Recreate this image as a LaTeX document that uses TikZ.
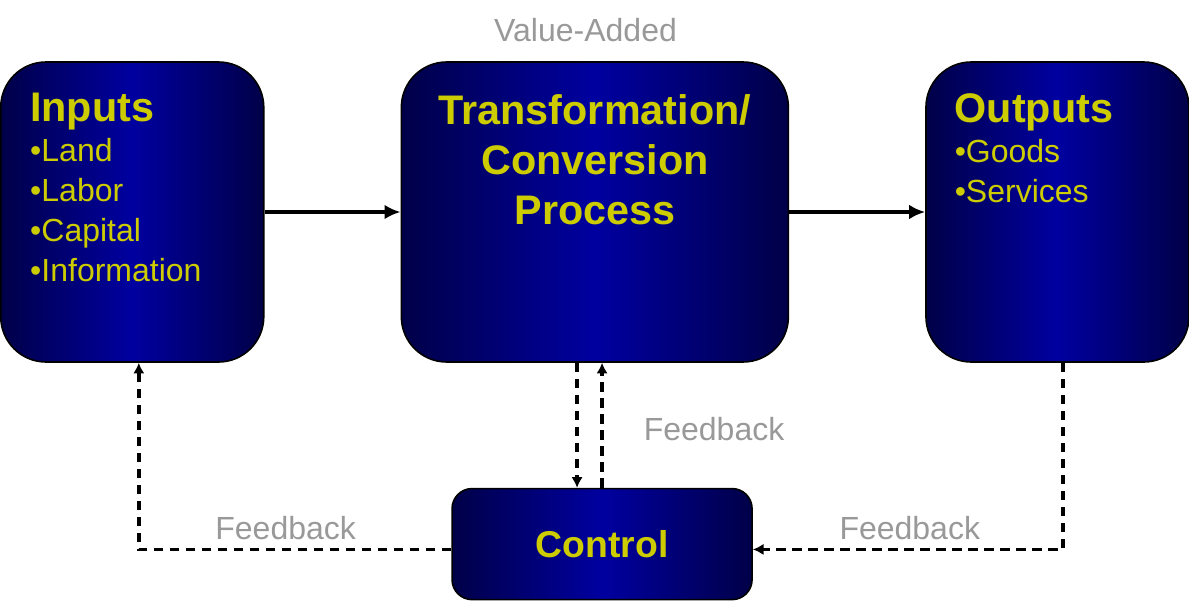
\documentclass[tikz,border=0pt]{standalone}
\usepackage{fontspec}
\setmainfont{Liberation Sans}
\usetikzlibrary{positioning, arrows.meta}

\definecolor{navyedge}{RGB}{0,0,72}
\definecolor{navymid}{RGB}{0,0,160}
\definecolor{labelgold}{RGB}{204,204,0}
\definecolor{notegray}{RGB}{153,153,153}
\newcommand{\titlefont}{\bfseries\fontsize{31}{30}\selectfont}

\begin{document}
\begin{tikzpicture}[
  box/.style     = {draw=black, line width=1.2pt, rounded corners=34pt,
                    left color=navyedge, right color=navyedge, middle color=navymid,
                    minimum width=197.25pt, minimum height=225pt, inner sep=0pt},
  ctrlbox/.style = {box, rounded corners=15pt, minimum width=225pt, minimum height=83.25pt,
                    text=labelgold, font=\bfseries\fontsize{28}{30}\selectfont},
  boxtext/.style = {text=labelgold, align=left, inner sep=0pt, font=\fontsize{24}{30}\selectfont},
  note/.style    = {text=notegray, inner sep=0pt, font=\fontsize{24}{30}\selectfont},
  flow/.style    = {line width=3.2pt, -{Latex[length=12pt, width=11pt]}},
  fbarrow/.style = {line width=2.6pt, dash pattern=on 7pt off 5pt, -{Latex[length=8pt, width=8.5pt]}},
]
  \useasboundingbox (0,0) rectangle (891.75pt,-450pt);

  % the three main blocks
  \node[box]                                      (inputs)  at (99.2pt,-159pt) {};
  \node[box, minimum width=290.25pt, right=102pt of inputs] (trans)   {};
  \node[box, right=102pt of trans]                (outputs) {};
  \node[ctrlbox, below=93.75pt of trans, xshift=5.4pt] (control) {Control};

  % texts inside the blocks
  \node[boxtext, anchor=north west] (intext)  at ([xshift=22.5pt, yshift=-24pt]inputs.north west)
    {{\titlefont Inputs}\\•Land\\•Labor\\•Capital\\•Information};
  \node[boxtext, anchor=north west] (outtext) at ([xshift=22pt, yshift=-24pt]outputs.north west)
    {{\titlefont Outputs}\\•Goods\\•Services};
  \node[boxtext, align=center, anchor=north, font=\bfseries\fontsize{31}{37.5}\selectfont]
    (transtext) at ([yshift=-25pt]trans.north) {Transformation/\\Conversion\\Process};

  \node[note, above=14pt of trans, xshift=-7pt] (valueadded) {Value-Added};

  % main flow
  \draw[flow] (inputs)  -- (trans);
  \draw[flow] (trans)   -- (outputs);

  % feedback loops
  \path (control.north) ++(-18.75pt,0) coordinate (ctrlin);
  \draw[fbarrow] (ctrlin |- trans.south) -- (ctrlin);
  \draw[fbarrow] (control.north) -- node[note, right=30pt, pos=0.47] (fbmid) {Feedback} (control.north |- trans.south);
  \draw[fbarrow] ([yshift=-4pt]control.west) -| node[note, above=6pt, pos=0.265] (fbleft) {Feedback} ([xshift=4.9pt]inputs.south);
  \draw[fbarrow] ([xshift=4.1pt]outputs.south) |- node[note, above=6pt, pos=0.747] (fbright) {Feedback} ([yshift=-4pt]control.east);
\end{tikzpicture}
\end{document}
